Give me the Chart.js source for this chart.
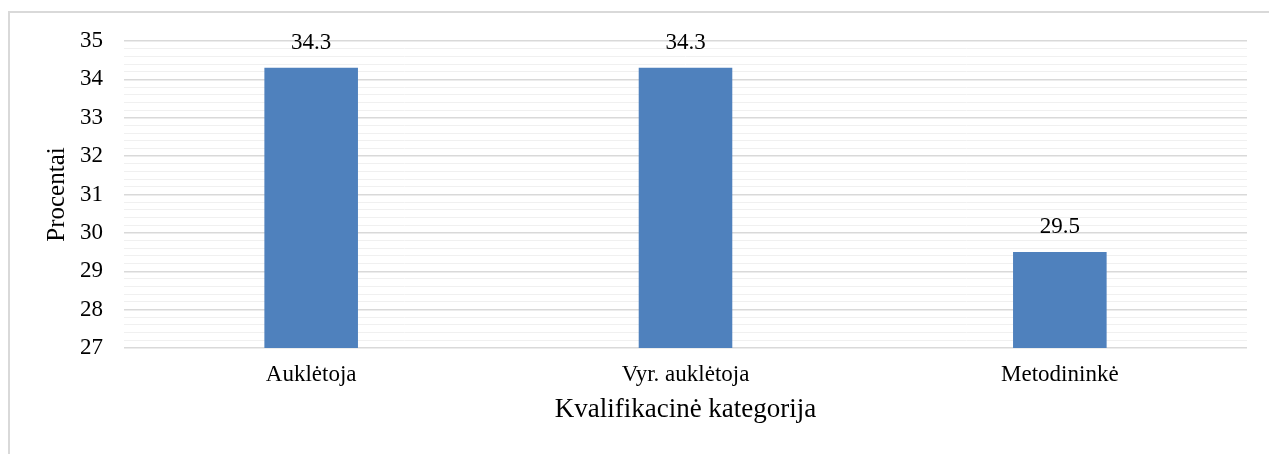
<!DOCTYPE html>
<html>
<head>
<meta charset="utf-8">
<script src="https://cdn.jsdelivr.net/npm/chart.js@4"></script>
<style>
  body { margin: 0; background: #fff; }
  #frame { position: absolute; left: 8px; top: 11px; width: 1300px; height: 500px; border: 2px solid #d9d9d9; box-sizing: border-box; }
  #wrap { position: absolute; left: 0; top: 0; width: 1269px; height: 454px; }
</style>
</head>
<body>
<div id="frame"></div>
<div id="wrap"><canvas id="chart"></canvas></div>
<script>
// duomenys
const kategorijos = ["Auklėtoja", "Vyr. auklėtoja", "Metodininkė"];
const procentai = [34.3, 34.3, 29.5];
const yMin = 27;
const yMax = 35;

const serif = "'Liberation Serif', 'Times New Roman', serif";

function isMajor(v) {
    return Math.abs(v - Math.round(v)) < 1e-6;
}

// reiksmes virs stulpeliu
const labelPlugin = {
    id: 'barLabels',
    afterDatasetsDraw(chart) {
        const ctx = chart.ctx;
        const meta = chart.getDatasetMeta(0);
        ctx.save();
        ctx.font = "23px " + serif;
        ctx.fillStyle = "#000";
        ctx.textAlign = "center";
        ctx.textBaseline = "middle";
        meta.data.forEach((bar, i) => {
            ctx.fillText(procentai[i].toFixed(1), bar.x, bar.y - 25);
        });
        ctx.restore();
    }
};

new Chart(document.getElementById('chart'), {
    type: 'bar',
    data: {
        labels: kategorijos,
        datasets: [{
            data: procentai,
            backgroundColor: '#4f81bd',
            categoryPercentage: 1,
            barPercentage: 0.25
        }]
    },
    options: {
        responsive: true,
        maintainAspectRatio: false,
        animation: false,
        layout: { padding: { left: 38, top: 41, right: 22, bottom: 24 } },
        plugins: { legend: { display: false }, tooltip: { enabled: false } },
        scales: {
            x: {
                grid: { display: false, drawTicks: false },
                border: { display: false },
                ticks: { color: '#000', font: { family: serif, size: 23 }, padding: 13 },
                title: { display: true, text: 'Kvalifikacinė kategorija', color: '#000', font: { family: serif, size: 27 }, padding: { top: 0, bottom: 4 } },
                afterFit(scale) { scale.height = 82; }
            },
            y: {
                min: yMin,
                max: yMax,
                border: { display: false },
                grid: {
                    drawTicks: false,
                    color: c => isMajor(c.tick.value) ? '#d9d9d9' : '#f0f0f0',
                    lineWidth: c => isMajor(c.tick.value) ? 1.5 : 1
                },
                ticks: {
                    stepSize: 0.2,
                    autoSkip: false,
                    color: '#000',
                    padding: 21,
                    font: { family: serif, size: 23 },
                    callback: v => isMajor(v) ? String(Math.round(v)) : ''
                },
                title: { display: true, text: 'Procentai', color: '#000', font: { family: serif, size: 25 }, padding: { top: 4, bottom: 0 } },
                afterFit(scale) { scale.width = 86; }
            }
        }
    },
    plugins: [labelPlugin]
});
</script>
</body>
</html>
